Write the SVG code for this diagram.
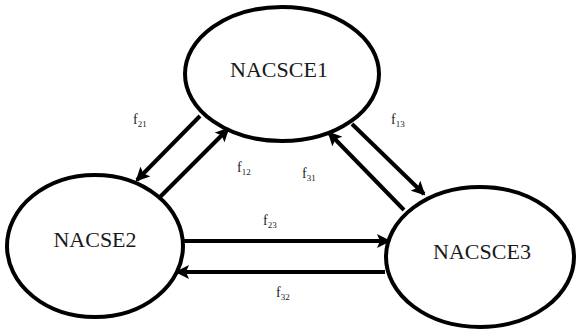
<svg xmlns="http://www.w3.org/2000/svg" width="577" height="332" viewBox="0 0 577 332">
  <style>
    .node ellipse { fill: #fff; stroke: #000; stroke-width: 4; }
    .node text { font-family: 'Liberation Serif', 'DejaVu Serif', serif; font-size: 22px; fill: #1a1a1a; text-anchor: middle; }
    .flow line { stroke: #000; stroke-width: 4; }
    .lbl { font-family: 'Liberation Serif', 'DejaVu Serif', serif; font-size: 14px; fill: #1a1a1a; }
    .sub { font-size: 9px; }
  </style>
  <defs>
    <marker id="head" markerUnits="userSpaceOnUse" markerWidth="14" markerHeight="14" viewBox="0 0 14 14" refX="12" refY="7" orient="auto">
      <path d="M0,0 L14,7 L0,14 L3,7 Z" fill="#000"/>
    </marker>
  </defs>

  <g id="NACSCE1" class="node">
    <ellipse cx="282" cy="74" rx="97" ry="67"/>
    <text x="279" y="77">NACSCE1</text>
  </g>
  <g id="NACSE2" class="node">
    <ellipse cx="95" cy="246" rx="88" ry="71"/>
    <text x="95" y="247">NACSE2</text>
  </g>
  <g id="NACSCE3" class="node">
    <ellipse cx="480" cy="257" rx="94" ry="70"/>
    <text x="482" y="259">NACSCE3</text>
  </g>

  <g id="connectors" class="flow">
    <line x1="200" y1="116" x2="137" y2="180" marker-end="url(#head)"/>
    <line x1="160" y1="197" x2="228" y2="129" marker-end="url(#head)"/>
    <line x1="352" y1="124" x2="424" y2="194" marker-end="url(#head)"/>
    <line x1="404" y1="210" x2="329" y2="133" marker-end="url(#head)"/>
    <line x1="182" y1="241" x2="389" y2="241" marker-end="url(#head)"/>
    <line x1="385" y1="272" x2="177" y2="272" marker-end="url(#head)"/>
  </g>

  <g id="labels">
    <text class="lbl" x="133" y="124">f<tspan class="sub" dy="3">21</tspan></text>
    <text class="lbl" x="237" y="172">f<tspan class="sub" dy="3">12</tspan></text>
    <text class="lbl" x="391" y="124">f<tspan class="sub" dy="3">13</tspan></text>
    <text class="lbl" x="302" y="178">f<tspan class="sub" dy="3">31</tspan></text>
    <text class="lbl" x="263" y="225">f<tspan class="sub" dy="3">23</tspan></text>
    <text class="lbl" x="276" y="297">f<tspan class="sub" dy="3">32</tspan></text>
  </g>
</svg>
